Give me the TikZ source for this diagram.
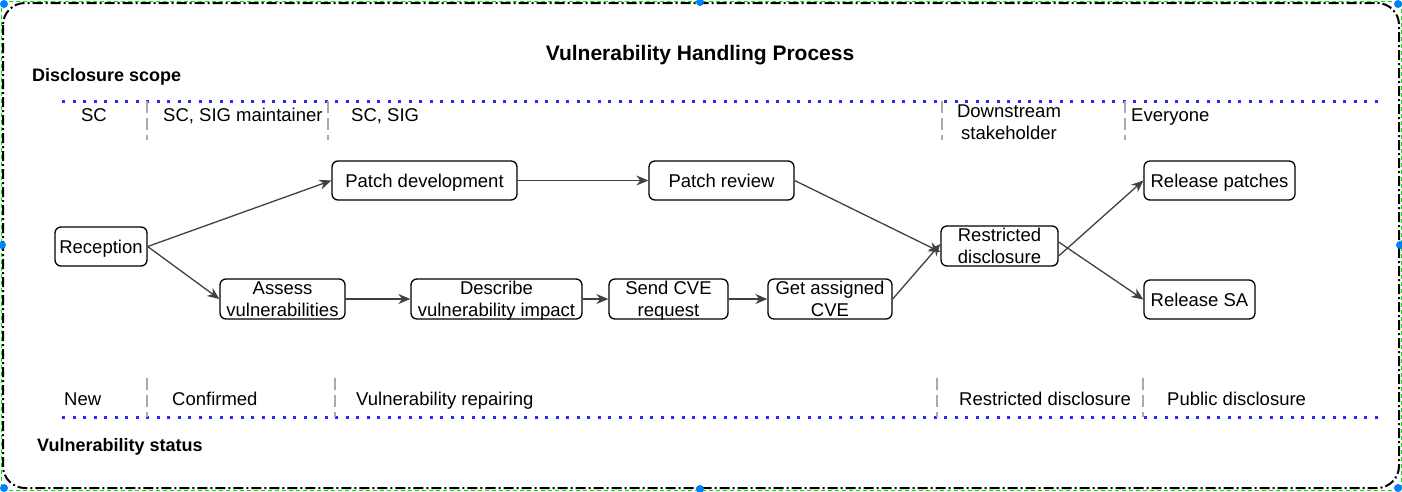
\documentclass[tikz,border=0pt]{standalone}
\usepackage{fontspec}
\setmainfont{Liberation Sans}
\usetikzlibrary{arrows.meta,positioning}

\definecolor{handleblue}{RGB}{0,127,255}
\definecolor{linegray}{RGB}{64,64,64}
\definecolor{sepgray}{RGB}{170,170,170}
\definecolor{dotblue}{RGB}{40,40,255}
\definecolor{selgreen}{RGB}{0,230,0}

\begin{document}
\begin{tikzpicture}[x=1pt,y=-1pt,align=center]
\tikzstyle{step box}=[draw=black,line width=1.3pt,rounded corners=6pt,minimum height=39pt,inner sep=1pt,
  font=\fontsize{18.5}{22}\selectfont]
\tikzstyle{one line}=[text height=13pt,text depth=0pt]
\tikzstyle{two lines}=[text depth=0pt,minimum height=40pt]
\tikzstyle{flow}=[-{Stealth[length=12pt,width=10pt]},draw=linegray,line width=1.3pt]
\tikzstyle{scopeline}=[dotblue,line width=3pt,dash pattern=on 3pt off 7.5pt]
\tikzstyle{sep}=[sepgray,line width=2.5pt,dash pattern=on 12pt off 5pt]
\tikzstyle{lbl}=[inner sep=0pt,font=\fontsize{18.5}{22}\selectfont]
\tikzstyle{head}=[inner sep=0pt,one line,font=\fontsize{18}{21}\bfseries\selectfont]
\tikzstyle{handle}=[circle,fill=handleblue,inner sep=0pt,minimum size=8pt]

\useasboundingbox (0,0) rectangle (1402,491);

% frame
\draw[black,line width=2pt,rounded corners=22pt,dash pattern=on 10pt off 3pt on 2pt off 3pt]
  (3,3) rectangle (1399,488);
\draw[selgreen,line width=1pt,dash pattern=on 4pt off 3pt] (1,1) rectangle (1401,490);
\foreach \hx/\hy in {4/4, 700/2, 1398/4, 2/245, 1400/245, 4/488, 700/489, 1398/488}
  \node[handle] at (\hx,\hy) {};

\node[inner sep=0pt,text height=15pt,text depth=0pt,font=\fontsize{21}{24}\bfseries\selectfont] (title) at (700,53) {Vulnerability Handling Process};
\node[head,anchor=west] (scopehead) at (32,75) {Disclosure scope};
\node[head,anchor=west] (statushead) at (37,445) {Vulnerability status};

% scope and status lines
\draw[scopeline] (62,101) -- (1380,101);
\draw[scopeline] (62,417) -- (1380,417);
\foreach \sx in {147,328,942,1125}
  \draw[sep] (\sx,101) -- (\sx,140);
\foreach \sx in {147,335,937,1143}
  \draw[sep] (\sx,378) -- (\sx,417);

\node[lbl,one line] (scsc) at (94,115) {SC};
\node[lbl,one line,anchor=west] (scmaint) at (163,115) {SC, SIG maintainer};
\node[lbl,one line,anchor=west] (scsig) at (351,115) {SC, SIG};
\node[lbl] (downstream) at (1009,122.5) {Downstream\\stakeholder};
\node[lbl,one line,anchor=west] (everyone) at (1131,115) {Everyone};

\node[lbl,one line,anchor=west] (stnew) at (64,399) {New};
\node[lbl,one line,anchor=west] (stconf) at (172,399) {Confirmed};
\node[lbl,one line,anchor=west] (strepair) at (356,399) {Vulnerability repairing};
\node[lbl,one line,anchor=west] (strestr) at (959,399) {Restricted disclosure};
\node[lbl,one line,anchor=west] (stpublic) at (1167,399) {Public disclosure};

% process steps
\node[step box,one line,minimum width=92pt] (reception) at (101,246.5) {Reception};
\node[step box,one line,minimum width=185pt] (patchdev) at (424.5,180.5) {Patch development};
\node[step box,one line,minimum width=145pt] (patchrev) at (721.5,180.5) {Patch review};
\node[step box,two lines,minimum width=125pt] (assess) at (282.5,299) {Assess\\vulnerabilities};
\node[step box,two lines,minimum width=171pt] (describe) at (496.5,299) {Describe\\vulnerability impact};
\node[step box,two lines,minimum width=119pt] (sendcve) at (668.5,299) {Send CVE\\request};
\node[step box,two lines,minimum width=124pt] (getcve) at (830,299) {Get assigned\\CVE};
\node[step box,two lines,minimum width=117pt] (restricted) at (999.5,246) {Restricted\\disclosure};
\node[step box,one line,minimum width=151pt] (relpatch) at (1219.5,180.5) {Release patches};
\node[step box,one line,minimum width=111pt] (relsa) at (1199.5,299.5) {Release SA};

\path
  (reception.east) edge [flow] (patchdev.west)
  (reception.east) edge [flow] (assess.west)
  (patchdev) edge [flow] (patchrev)
  (patchrev.east) edge [flow] ([yshift=-6pt]restricted.west)
  (assess) edge [flow] (describe)
  (describe) edge [flow] (sendcve)
  (sendcve) edge [flow] (getcve)
  (getcve.east) edge [flow] ([yshift=2pt]restricted.west)
  ([yshift=-10pt]restricted.east) edge [flow] (relpatch.west)
  ([yshift=4pt]restricted.east) edge [flow] (relsa.west);
\end{tikzpicture}
\end{document}
